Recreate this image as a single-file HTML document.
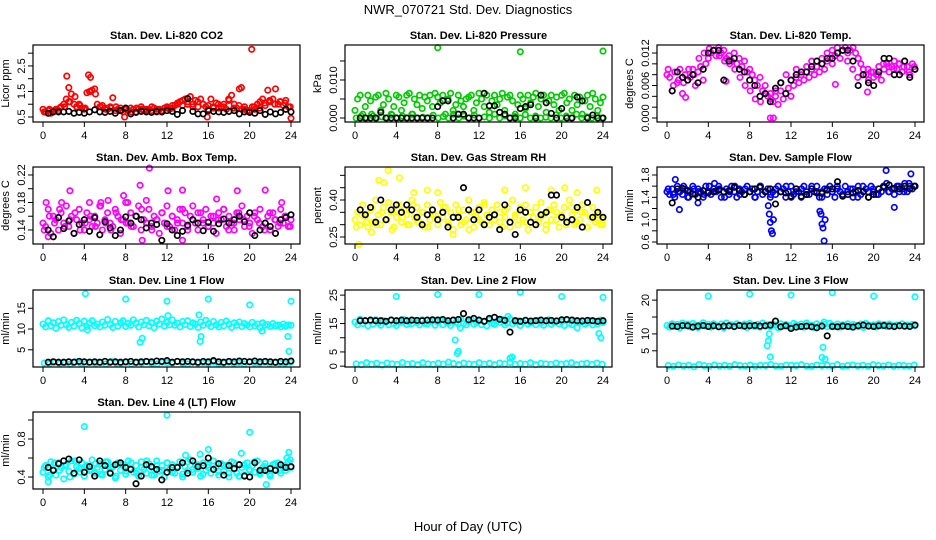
<!DOCTYPE html>
<html><head><meta charset="utf-8"><style>
html,body{margin:0;padding:0;background:#fff}
svg{display:block}
text{font-family:"Liberation Sans",sans-serif}
</style></head><body>
<svg id="chart" width="936" height="540" viewBox="0 0 936 540" xmlns="http://www.w3.org/2000/svg">
<text x="468" y="14" text-anchor="middle" font-size="13">NWR_070721  Std. Dev. Diagnostics</text>
<text x="468" y="531" text-anchor="middle" font-size="13">Hour of Day (UTC)</text>
</svg>
<script>
// ---------- data ----------
const xTicks=[0,4,8,12,16,20,24];
// Panel 1 CO2
const co2Red=[0.8,0.7,0.75,0.65,0.7,0.8,0.75,0.9,1.0,1.2,1.1,1.4,1.0,0.9,1.0,0.85,0.8,1.45,1.5,1.55,1.6,1.0,0.9,0.95,0.85,0.8,0.9,1.25,0.75,0.8,0.85,0.7,0.8,0.75,0.85,0.8,0.7,0.8,0.9,0.75,0.8,0.8,0.75,0.85,0.7,0.8,0.75,0.85,0.9,0.8,0.85,0.95,1.0,1.1,0.95,1.2,1.1,1.3,1.0,1.15,0.9,1.2,1.0,0.9,0.8,1.2,0.9,1.05,0.85,0.9,1.0,0.8,1.15,1.35,1.0,0.85,1.6,0.8,0.9,0.75,0.7,0.9,0.8,1.0,1.1,1.2,0.95,1.55,1.1,1.2,1.6,1.0,1.1,0.95,1.15,0.9,0.45];
const co2RedB=[0.7,0.8,0.75,0.85,0.9,1.1,1.3,0.95,0.85,1.5,1.4,0.9,0.8,0.85,0.9,0.75,0.8,0.7,0.85,0.8,0.75,0.9,0.8,0.7,0.85,0.95,1.05,1.15,1.0,0.9,1.1,1.0,0.95,0.85,1.0,0.9,1.2,0.85,0.95,0.8,0.75,0.9,0.85,1.05,1.15,1.0,1.1,1.05,0.9];
const co2OutHours=[2.3,4.4,4.6,20.2,2.5,19.2,7.9,15.9];
const co2OutVals=[2.1,2.15,2.05,3.15,1.65,1.65,0.5,0.5];
const co2Black=[0.65,0.7,0.7,0.7,0.72,0.65,0.68,0.65,0.7,0.78,0.7,0.68,0.72,0.65,0.75,0.85,0.62,0.68,0.72,0.7,0.68,0.72,0.7,0.75,0.72,0.6,0.75,1.22,0.72,0.62,0.62,0.75,0.72,0.7,0.68,0.72,0.75,0.62,0.7,0.68,0.65,0.75,0.6,0.7,0.62,0.68,0.8,0.7];
// Panel 2 Pressure
const presGreen=[0.002,0.005,0.006,0.001,0.003,0.006,0.0045,0.0005,0.0055,0.006,0.002,0.0035,0.0065,0.005,0.001,0.003,0.006,0.0055,0.002,0.004,0.006,0.0065,0.001,0.005,0.0035,0.006,0.0025,0.0055,0.0045,0.006,0.003,0.0065,0.0055,0.004,0.006,0.001,0.005,0.0065,0.002,0.0035,0.006,0.0045,0.003,0.005,0.0055,0.006,0.002,0.004,0.0065,0.005,0.003,0.006,0.0015,0.0045,0.006,0.0035,0.005,0.0065,0.002,0.0055,0.006,0.0045,0.001,0.0035,0.006,0.005,0.0025,0.006,0.004,0.0055,0.0065,0.003,0.005,0.006,0.0015,0.0045,0.006,0.0035,0.0055,0.002,0.006,0.0065,0.004,0.005,0.002,0.006,0.0035,0.0055,0.001,0.0045,0.006,0.003,0.0065,0.005,0.002,0.004,0.0055];
const presGreenB=[0,0.0005,0,0.001,0,0.0003,0,0.0008,0,0.0005,0,0.001,0,0.0002,0,0.0007,0,0.0004,0,0.001,0,0.0005,0,0.0008,0,0.0003,0,0.001,0,0.0006,0,0.0004,0,0.0009,0,0.0005,0,0.0002,0,0.0008,0,0.0005,0,0.001,0,0.0003,0,0.0006,0];
const presOutHours=[8,16,24];
const presOutVals=[0.0185,0.0174,0.0176];
const presBlack=[0,0,0,0,0.0015,0,0,0,0,0,0,0,0,0,0,0.003,0.0045,0.0045,0,0.001,0.001,0,0,0,0.0065,0.0032,0.0032,0.0015,0.001,0,0,0.0025,0.003,0.0035,0,0.006,0.004,0.0012,0,0.0025,0,0,0.0055,0.0045,0,0.0008,0,0];
// Panel 3 Temp
const tempMag=[.0080,.0075,.0050,.0085,.0065,.0090,.0045,.0080,.0070,.0075,.0090,.0060,.0085,.0095,.0070,.0100,.0110,.0120,.0125,.0115,.0130,.0120,.0125,.0110,.0115,.0105,.0120,.0100,.0110,.0095,.0105,.0085,.0090,.0080,.0070,.0060,.0075,.0050,.0060,.0040,.0045,.0030,.0040,.0025,.0050,.0035,.0045,.0055,.0040,.0060,.0075,.0065,.0080,.0070,.0085,.0075,.0090,.0080,.0095,.0085,.0100,.0090,.0105,.0110,.0100,.0115,.0120,.0110,.0125,.0130,.0120,.0125,.0130,.0120,.0110,.0100,.0090,.0080,.0070,.0085,.0075,.0080,.0095,.0070,.0090,.0100,.0085,.0095,.0105,.0090,.0100,.0085,.0105,.0095,.0080,.0100,.0090];
const tempMagB=[.0090,.0060,.0070,.0065,.0090,.0080,.0110,.0120,.0128,.0125,.0115,.0105,.0100,.0090,.0075,.0060,.0050,.0035,.0030,.0045,.0035,.0050,.0065,.0080,.0070,.0090,.0085,.0095,.0105,.0095,.0110,.0120,.0125,.0130,.0125,.0105,.0090,.0075,.0080,.0090,.0085,.0080,.0100,.0095,.0090,.0100,.0095,.0085,.0095];
const tempOutHours=[10,10.3,1.8,5.7,16.3,19.4];
const tempOutVals=[0,0,0.0038,0.0068,0.0062,0.0048];
const tempBlack=[.0050,.0085,.0075,.0070,.0080,.0065,.0090,.0120,.0125,.0125,.0070,.0105,.0110,.0090,.0085,.0070,.0060,.0040,.0045,.0030,.0055,.0065,.0045,.0070,.0080,.0085,.0085,.0095,.0105,.0100,.0110,.0110,.0120,.0125,.0125,.0105,.0060,.0080,.0065,.0060,.0085,.0110,.0110,.0080,.0080,.0105,.0075,.0090];
// Panel 4 Amb box
const ambMag=[.150,.145,.170,.135,.160,.155,.140,.165,.150,.175,.145,.160,.135,.155,.170,.150,.140,.165,.155,.145,.160,.150,.175,.140,.155,.165,.150,.145,.170,.160,.135,.155,.180,.150,.165,.145,.160,.175,.140,.155,.150,.170,.145,.160,.155,.135,.165,.150,.175,.145,.160,.140,.155,.170,.150,.165,.145,.160,.175,.150,.140,.165,.155,.170,.145,.160,.150,.135,.165,.155,.170,.145,.160,.150,.140,.165,.155,.175,.145,.160,.150,.135,.165,.155,.170,.145,.150,.160,.140,.165,.155,.145,.170,.150,.160,.145,.155];
const ambMagB=[.140,.160,.150,.170,.145,.155,.165,.140,.150,.160,.145,.175,.150,.140,.165,.155,.150,.145,.160,.170,.150,.140,.155,.165,.145,.160,.150,.170,.140,.155,.165,.150,.145,.160,.155,.170,.140,.150,.165,.155,.145,.160,.150,.140,.165,.155,.150,.160,.145];
const ambOutHours=[0.3,1.8,2.6,4.5,5.6,6.3,7.8,8.2,9.4,10,10.3,12.1,13.5,16.8,18.8,21.5,23.1,9.6,0.5,13.5];
const ambOutVals=[.18,.18,.197,.18,.18,.183,.19,.18,.205,.183,.23,.197,.198,.185,.197,.198,.18,.125,.13,.125];
const ambBlack=[.140,.130,.158,.142,.153,.135,.148,.155,.138,.158,.133,.152,.143,.132,.140,.159,.150,.160,.155,.143,.150,.148,.125,.149,.140,.132,.138,.147,.155,.150,.139,.151,.138,.149,.156,.150,.155,.160,.152,.165,.132,.140,.150,.145,.135,.155,.158,.162];
// Panel 5 Gas RH
const rhYel=[.32,.35,.30,.38,.33,.29,.36,.31,.40,.34,.30,.37,.32,.39,.35,.29,.33,.38,.31,.36,.34,.30,.40,.33,.37,.31,.35,.29,.38,.32,.36,.34,.30,.39,.33,.37,.31,.35,.28,.38,.34,.30,.36,.32,.40,.35,.29,.33,.37,.31,.39,.34,.30,.36,.32,.38,.35,.29,.33,.37,.31,.40,.34,.30,.36,.32,.38,.28,.35,.33,.37,.31,.39,.34,.30,.36,.32,.38,.35,.29,.33,.37,.31,.40,.34,.30,.36,.32,.38,.35,.29,.33,.37,.31,.34,.30,.32];
const rhYelB=[.29,.34,.31,.37,.30,.35,.32,.28,.36,.33,.30,.38,.31,.35,.29,.34,.32,.37,.30,.33,.36,.31,.28,.35,.32,.38,.30,.34,.31,.36,.29,.33,.37,.31,.35,.30,.33,.28,.36,.32,.34,.30,.37,.31,.35,.29,.33,.32,.30];
const rhOutHours=[0.4,1.6,2.3,2.8,3.2,4.3,5.7,7.0,8.0,14.5,16.5,19.0,20.3,21.5,23.4,9.5];
const rhOutVals=[.22,.27,.48,.47,.52,.49,.43,.44,.43,.44,.45,.44,.45,.43,.44,.26];
const rhBlack=[.36,.34,.37,.31,.40,.32,.36,.38,.35,.38,.36,.33,.30,.34,.36,.32,.35,.29,.33,.33,.45,.36,.32,.36,.30,.33,.34,.28,.38,.31,.26,.36,.35,.31,.30,.34,.35,.42,.42,.33,.31,.32,.37,.29,.39,.33,.35,.33];
// Panel 6 Sample flow
const sfBlue=[1.5,1.45,1.55,1.4,1.6,1.5,1.45,1.55,1.4,1.5,1.6,1.45,1.55,1.5,1.4,1.6,1.5,1.45,1.55,1.5,1.6,1.4,1.5,1.55,1.45,1.6,1.5,1.4,1.55,1.5,1.45,1.6,1.5,1.55,1.4,1.5,1.6,1.45,1.5,1.55,1.4,1.5,1.45,1.6,1.5,1.55,1.4,1.5,1.6,1.45,1.55,1.5,1.4,1.6,1.5,1.45,1.55,1.5,1.6,1.4,1.5,1.55,1.45,1.6,1.5,1.4,1.55,1.5,1.45,1.6,1.5,1.55,1.4,1.5,1.6,1.45,1.5,1.55,1.4,1.6,1.5,1.45,1.55,1.5,1.6,1.65,1.5,1.55,1.45,1.6,1.5,1.55,1.65,1.5,1.6,1.55,1.6];
const sfBlueB=[1.55,1.45,1.5,1.6,1.4,1.55,1.5,1.45,1.6,1.5,1.55,1.4,1.5,1.6,1.45,1.55,1.5,1.4,1.6,1.5,1.45,1.55,1.5,1.6,1.4,1.5,1.55,1.45,1.6,1.5,1.4,1.55,1.5,1.6,1.45,1.5,1.55,1.4,1.6,1.5,1.55,1.45,1.6,1.5,1.55,1.6,1.5,1.65,1.6];
const sfOutHours=[0.8,1.2,4.6,9.8,9.9,10.0,10.1,10.2,10.3,14.8,14.9,15.0,15.1,15.2,15.3,21.2,23.6,22.0,3.0];
const sfOutVals=[1.72,1.18,1.65,1.25,1.1,0.95,0.8,0.75,1.0,1.15,1.1,0.92,0.85,0.62,1.0,1.88,1.82,1.22,1.3];
const sfBlack=[1.30,1.55,1.56,1.52,1.46,1.40,1.52,1.48,1.50,1.53,1.50,1.52,1.58,1.52,1.45,1.50,1.55,1.58,1.50,1.55,1.28,1.50,1.48,1.42,1.55,1.42,1.45,1.55,1.48,1.47,1.53,1.55,1.68,1.42,1.45,1.48,1.52,1.50,1.40,1.45,1.55,1.58,1.62,1.56,1.55,1.60,1.55,1.60];
// Panel 7 Line 1
const l1High=[11.2,10.5,12,10.8,11.5,10.2,11.8,10.9,12.2,11,10.4,11.6,10.7,12.1,11.3,10.3,11.9,10.6,11.4,12,10.8,11.2,10.5,11.7,10.9,12.3,11.1,10.4,11.8,10.7,11.5,12,10.6,11.3,10.9,12.2,11.4,10.5,11.7,11,12.1,10.8,11.5,10.3,11.9,11.2,12.4,10.7,11.6,11,12.2,10.9,11.4,10.5,11.8,11.1,12,10.6,11.5,11.2,10.4,11.7,10.9,12.1,11.3,10.6,11.8,11,10.5,11.6,10.8,11.9,11.2,10.4,11.5,10.9,11.7,10.6,11.3,11,10.5,11.6,10.8,11.2,10.3,11.5,10.9,11.1,10.6,11.3,10.8,11,10.5,11.2,10.7,11,10.9];
const l1Low=[1.8,1.6,2.0,1.7,1.9,1.5,2.1,1.8,1.6,2.0,1.7,1.9,1.6,2.2,1.8,1.7,2.0,1.6,1.9,1.8,2.1,1.7,1.6,2.0,1.9,1.8,2.2,1.7,1.6,2.0,1.8,1.9,1.7,2.1,1.6,1.8,2.0,1.7,1.9,1.6,2.1,1.8,1.7,2.0,1.6,1.9,1.8,1.7,2.0];
const l1OutHours=[4.1,8,12,16,20,24,9.4,9.6,15.2,15.3,23.7,23.8,4.3,21.2,12.1,15.1];
const l1OutVals=[18.5,17.2,16.7,17.2,15.8,16.7,6.8,7.8,7,8.2,8.2,4.6,9.8,9.5,13.2,13.4];
const l1Black=[2.0,2.1,2.0,2.0,2.1,2.0,2.2,2.1,2.0,2.1,2.0,2.2,2.0,2.1,2.0,2.1,2.2,2.0,2.1,2.2,2.1,2.3,2.2,2.4,2.0,2.2,2.1,2.2,2.1,2.0,2.2,2.1,2.4,2.1,2.0,2.2,2.1,2.3,2.2,2.1,2.3,2.1,2.2,2.1,2.0,2.2,2.1,2.3];
// Panel 8 Line 2
const l2High=[15.5,14.5,16.5,15,16,14.2,15.8,14.8,16.3,15.2,14.4,16,15.5,14.6,16.2,15,14.3,15.9,15.4,16.4,14.7,15.6,14.9,16.1,15.3,14.5,16.3,15.1,14.8,15.7,16,14.4,15.5,16.2,14.6,15.8,15.2,14.3,16.1,15.4,14.9,16.5,15,14.5,15.7,16.3,14.8,15.3,16,14.6,15.6,14.2,16.2,15.1,14.7,15.9,15.4,16.4,14.5,15.2,16.6,14.9,15.6,16,14.3,15.5,16.2,14.8,15.3,15.9,14.6,16.1,15.2,14.4,15.8,16.3,14.7,15.4,16,14.9,15.6,14.3,16.2,15.1,14.6,15.9,13.5,15.5,16.1,14.8,15.3,16,14.5,15.7,14.9,16.2,15.4];
const l2Low=[0.8,0.5,1.2,0.7,1.0,0.4,1.1,0.8,0.6,1.3,0.7,0.9,0.5,1.2,0.8,0.6,1.0,0.7,1.4,0.9,0.5,1.1,0.8,0.6,1.2,0.7,1.0,0.5,1.1,0.8,1.3,0.6,0.9,0.7,1.2,0.5,1.0,0.8,0.6,1.1,0.7,0.9,1.2,0.5,0.8,1.0,0.6,1.1,0.7];
const l2OutHours=[4,8,12,16,20,24,9.7,9.9,10.0,15.0,15.2,14.8,23.6,23.8,10.2];
const l2OutVals=[24.5,25.2,25.2,26,24.5,24.2,9.2,4.5,5.2,2.8,3.2,17.5,11.5,10,13.5];
const l2Black=[16,16,16.2,16,16,15.8,16.2,16,16.2,16,16.2,16.1,16,16.2,16.3,16.2,16.4,16,16.2,16.4,18.5,16.3,16.8,16.2,15.8,16.8,17.2,16.5,16.1,12,16,15.8,16.1,15.9,16,16.2,16,16.1,15.9,16.3,16.4,16.2,16,15.9,16.1,16,15.8,16];
// Panel 9 Line 3
const l3High=[12.5,12,13,12.2,12.8,11.8,13.2,12.4,12.9,12.1,13.1,12.6,11.9,12.7,13.3,12.3,12.8,12,13,12.5,12.2,12.9,11.8,13.2,12.4,12.7,12.1,13,12.6,12.3,12.9,11.9,13.1,12.5,12.2,12.8,12,13.2,12.4,12.7,12.1,12.9,12.6,11.8,13,12.3,12.8,12.5,12.1,13.1,12.7,12.2,12.9,12,13.2,12.4,12.6,11.9,13,12.5,12.3,12.8,12.1,13.1,12.6,12.2,12.9,12,12.7,12.4,13,12.1,12.8,12.5,12.2,12.9,11.9,13.1,12.6,12.3,12.7,12,13,12.4,12.8,12.2,12.9,12.5,12.1,12.7,12.4,13,12.2,12.6,12.3,12.8,12.5];
const l3Low=[0.6,0.4,0.8,0.5,0.7,0.3,0.9,0.6,0.4,0.8,0.5,0.7,0.4,0.9,0.6,0.5,0.8,0.4,0.7,0.6,0.9,0.5,0.4,0.8,0.7,0.6,0.9,0.5,0.4,0.8,0.6,0.7,0.5,0.9,0.4,0.6,0.8,0.5,0.7,0.4,0.9,0.6,0.5,0.8,0.4,0.7,0.6,0.5,0.8];
const l3OutHours=[4,8,12,16,20,24,9.7,9.8,9.9,10.0,15.0,15.1,15.2,15.3];
const l3OutVals=[21.2,21.8,21.5,22.2,21.2,21,6.5,8,10,3.2,3,6,13.5,2.5];
const l3Black=[12.3,12.2,12.5,12.4,12.0,12.3,12.5,12.2,12.4,12.1,12.3,12.4,12.2,12.5,12.3,12.4,12.5,12.3,12.4,12.6,13.8,12.1,12.4,11.6,12.0,12.2,12.3,12.1,11.8,12.3,9.4,12.2,12.1,12.3,12.2,12.0,12.4,12.6,12.3,12.2,12.4,12.5,12.3,12.2,12.4,12.3,12.2,12.6];
// Panel 10 Line 4
const l4Cyan=[0.45,0.52,0.4,0.56,0.48,0.42,0.55,0.5,0.38,0.53,0.46,0.57,0.43,0.51,0.49,0.55,0.41,0.52,0.47,0.58,0.44,0.5,0.54,0.42,0.48,0.56,0.45,0.51,0.39,0.55,0.47,0.53,0.43,0.57,0.49,0.45,0.52,0.41,0.56,0.48,0.44,0.54,0.5,0.42,0.57,0.46,0.52,0.4,0.55,0.48,0.53,0.44,0.5,0.56,0.43,0.51,0.47,0.58,0.45,0.52,0.49,0.41,0.55,0.47,0.53,0.44,0.57,0.5,0.42,0.54,0.46,0.52,0.4,0.56,0.48,0.44,0.53,0.5,0.42,0.55,0.47,0.52,0.45,0.57,0.43,0.5,0.54,0.46,0.41,0.53,0.48,0.55,0.44,0.51,0.47,0.56,0.5];
const l4CyanB=[0.5,0.42,0.55,0.47,0.52,0.4,0.57,0.45,0.51,0.48,0.54,0.43,0.56,0.49,0.41,0.53,0.46,0.55,0.44,0.5,0.57,0.42,0.52,0.47,0.55,0.45,0.51,0.4,0.56,0.48,0.53,0.43,0.5,0.57,0.46,0.52,0.44,0.55,0.41,0.53,0.48,0.56,0.45,0.51,0.43,0.54,0.47,0.52,0.58];
const l4OutHours=[4,12,20,16,0.5,21.6,13.8,15.2,19.2,23.8,23.6];
const l4OutVals=[0.93,1.05,0.87,0.69,0.35,0.32,0.63,0.64,0.65,0.66,0.6];
const l4Black=[0.5,0.47,0.54,0.57,0.59,0.44,0.58,0.45,0.51,0.41,0.57,0.52,0.44,0.53,0.55,0.5,0.48,0.33,0.41,0.53,0.51,0.48,0.37,0.45,0.5,0.5,0.55,0.44,0.57,0.51,0.52,0.6,0.48,0.54,0.42,0.52,0.49,0.53,0.41,0.4,0.55,0.47,0.47,0.49,0.47,0.53,0.5,0.51];

// ---------- layout ----------
const NS='http://www.w3.org/2000/svg';
const svg=document.getElementById('chart');
function mk(tag,attrs,parent){const e=document.createElementNS(NS,tag);for(const k in attrs)e.setAttribute(k,attrs[k]);(parent||svg).appendChild(e);return e;}
const colLeft=[33,345,657], rowTop=[45,167,290,412];
const panels=[
 {key:'co2',title:'Stan. Dev. Li-820 CO2',yt:'Licor ppm',c:0,r:0,ymin:0.304,ymax:3.32,ticks:[0.5,1,1.5,2,2.5,3],labels:[0.5,1.5,2.5],lf:v=>v.toFixed(1),col:'#ff0000',A:co2Red,B:co2RedB,oh:co2OutHours,ov:co2OutVals,K:co2Black},
 {key:'pressure',title:'Stan. Dev. Li-820 Pressure',yt:'kPa',c:1,r:0,ymin:-0.00105,ymax:0.0192,ticks:[0,0.005,0.01,0.015],labels:[0,0.01],lf:v=>v.toFixed(3),col:'#00cc00',A:presGreen,B:presGreenB,oh:presOutHours,ov:presOutVals,K:presBlack},
 {key:'temp',title:'Stan. Dev. Li-820 Temp.',yt:'degrees C',c:2,r:0,ymin:-0.00074,ymax:0.01348,ticks:[0,0.002,0.004,0.006,0.008,0.01,0.012],labels:[0,0.006,0.012],lf:v=>v.toFixed(3),col:'#ff00ff',A:tempMag,B:tempMagB,oh:tempOutHours,ov:tempOutVals,K:tempBlack},
 {key:'amb-box',title:'Stan. Dev. Amb. Box Temp.',yt:'degrees C',c:0,r:1,ymin:0.1196,ymax:0.2316,ticks:[0.14,0.16,0.18,0.2,0.22],labels:[0.14,0.18,0.22],lf:v=>v.toFixed(2),col:'#ff00ff',A:ambMag,B:ambMagB,oh:ambOutHours,ov:ambOutVals,K:ambBlack},
 {key:'gas-rh',title:'Stan. Dev. Gas Stream RH',yt:'percent',c:1,r:1,ymin:0.2216,ymax:0.5338,ticks:[0.25,0.3,0.35,0.4,0.45,0.5],labels:[0.25,0.4],lf:v=>v.toFixed(2),col:'#ffff00',A:rhYel,B:rhYelB,oh:rhOutHours,ov:rhOutVals,K:rhBlack},
 {key:'sample-flow',title:'Stan. Dev. Sample Flow',yt:'ml/min',c:2,r:1,ymin:0.564,ymax:1.943,ticks:[0.6,0.8,1,1.2,1.4,1.6,1.8],labels:[0.6,1,1.4,1.8],lf:v=>v.toFixed(1),col:'#0000ff',A:sfBlue,B:sfBlueB,oh:sfOutHours,ov:sfOutVals,K:sfBlack},
 {key:'line1',title:'Stan. Dev. Line 1 Flow',yt:'ml/min',c:0,r:2,ymin:0.85,ymax:19.4,ticks:[5,10,15],labels:[5,10,15],lf:v=>String(v),col:'#00ffff',A:l1High,B:l1Low,oh:l1OutHours,ov:l1OutVals,K:l1Black},
 {key:'line2',title:'Stan. Dev. Line 2 Flow',yt:'ml/min',c:1,r:2,ymin:-0.3,ymax:26.8,ticks:[0,5,10,15,20,25],labels:[0,5,15,25],lf:v=>String(v),col:'#00ffff',A:l2High,B:l2Low,oh:l2OutHours,ov:l2OutVals,K:l2Black},
 {key:'line3',title:'Stan. Dev. Line 3 Flow',yt:'ml/min',c:2,r:2,ymin:0.2,ymax:23,ticks:[5,10,15,20],labels:[5,10,20],lf:v=>String(v),col:'#00ffff',A:l3High,B:l3Low,oh:l3OutHours,ov:l3OutVals,K:l3Black},
 {key:'line4',title:'Stan. Dev. Line 4 (LT) Flow',yt:'ml/min',c:0,r:3,ymin:0.274,ymax:1.084,ticks:[0.4,0.6,0.8,1.0],labels:[0.4,0.8],lf:v=>v.toFixed(1),col:'#00ffff',A:l4Cyan,B:l4CyanB,oh:l4OutHours,ov:l4OutVals,K:l4Black}
];
const BW=267,BH=77;
panels.forEach(p=>{
  const L=colLeft[p.c],T=rowTop[p.r];
  const g=mk('g',{});
  
  
  const xs=h=>L+10+h*(248/24);
  const ys=v=>T+BH-(v-p.ymin)/(p.ymax-p.ymin)*BH;
  const t=mk('text',{x:L+BW/2,y:T-6,'text-anchor':'middle','font-size':'11','font-weight':'bold'},g);
  t.textContent=p.title;
  
  
  const yt=mk('text',{x:0,y:0,'text-anchor':'middle','font-size':'11',transform:`translate(${L-24},${T+BH/2}) rotate(-90)`},g);
  yt.textContent=p.yt;
  
  
  const pts=mk('g',{},g);
  
  
  const dot=(h,v,color)=>{const c=mk('circle',{cx:xs(h).toFixed(1),cy:ys(v).toFixed(1),r:2.7,fill:'none',stroke:color,'stroke-width':1.7},pts);
    
    };
  p.A.forEach((v,i)=>dot(i*24/(p.A.length-1),v,p.col));
  p.B.forEach((v,i)=>dot(0.12+i*23.8/(p.B.length-1),v,p.col));
  p.oh.forEach((h,i)=>dot(h,p.ov[i],p.col));
  p.K.forEach((v,i)=>dot((i+1)*24/p.K.length,v,'#000'));
  const box=mk('rect',{x:L,y:T,width:BW,height:BH,fill:'none',stroke:'#000','stroke-width':1.2},g);
  
  
  xTicks.forEach(h=>{
    mk('line',{x1:xs(h),x2:xs(h),y1:T+BH,y2:T+BH+5,stroke:'#000'},g);
    const tx=mk('text',{x:xs(h),y:T+BH+17,'text-anchor':'middle','font-size':'11'},g);
    tx.textContent=h;
    
    
  });
  p.ticks.forEach(v=>mk('line',{x1:L-5,x2:L,y1:ys(v),y2:ys(v),stroke:'#000'},g));
  p.labels.forEach(v=>{
    const ty=mk('text',{x:0,y:0,'text-anchor':'middle','font-size':'11',transform:`translate(${L-8},${ys(v)}) rotate(-90)`},g);
    ty.textContent=p.lf(v);
    
    
  });
});
</script>
</body></html>
